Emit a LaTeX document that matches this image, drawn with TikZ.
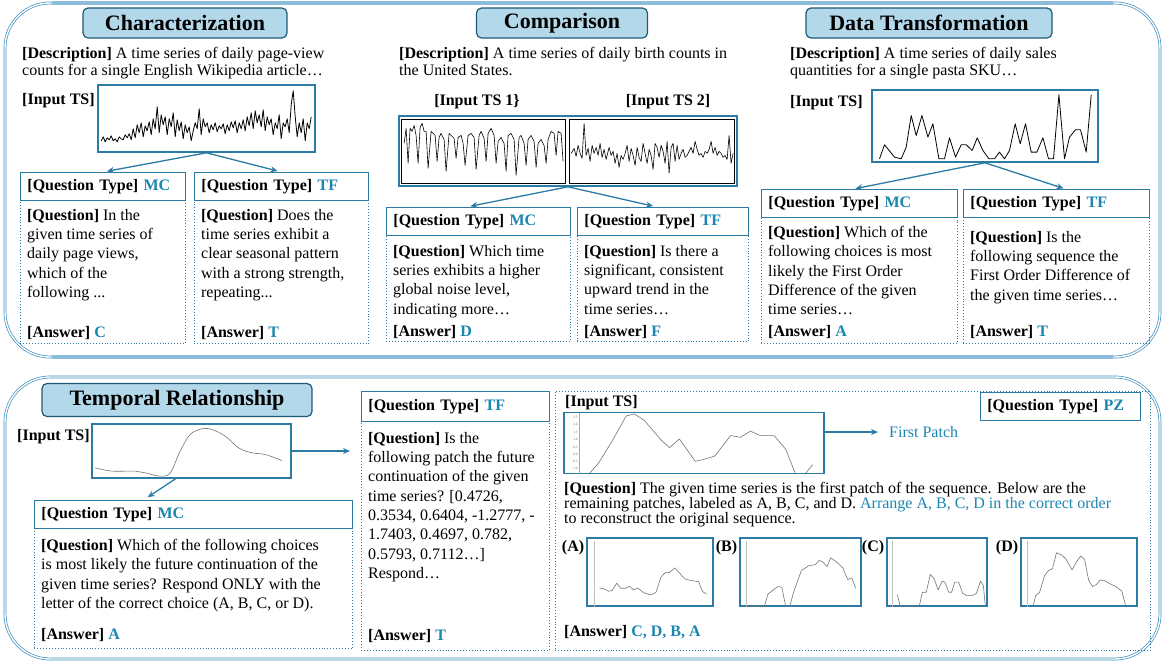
\documentclass[tikz,border=0pt]{standalone}
\usepackage{fontspec}
\setmainfont{Liberation Serif}
\usepackage{xcolor}
\usetikzlibrary{arrows.meta, positioning, calc}
\definecolor{PanelBlue}{HTML}{3D8FBF}
\definecolor{TitleFill}{HTML}{B3D8EA}
\definecolor{TitleEdge}{HTML}{1E5A78}
\definecolor{FrameBlue}{HTML}{2B7BA6}
\definecolor{AnswerBlue}{HTML}{1B86B0}

\begin{document}
\begin{tikzpicture}[
    x=1pt, y=-1pt,
    panel/.style={draw=PanelBlue, line width=0.7pt, double=white, double distance=1.4pt, rounded corners=45pt},
    edge/.style={draw=PanelBlue!60, line width=3.2pt},
    title/.style={draw=TitleEdge, fill=TitleFill, line width=1.2pt, rounded corners=5pt,
      font=\fontsize{22}{24}\selectfont\bfseries, minimum height=30pt},
    desc/.style={align=left, inner sep=0pt, font=\fontsize{16}{17.5}\selectfont},
    lbl/.style={inner sep=0pt, font=\fontsize{16}{18}\selectfont\bfseries},
    tsframe/.style={draw=FrameBlue, line width=1.6pt},
    qbox/.style={draw=FrameBlue, dotted, line width=0.9pt},
    qhead/.style={draw=FrameBlue, line width=1pt, text width=#1, align=left, inner xsep=7pt,
      minimum height=28pt, font=\fontsize{16}{18}\selectfont},
    qtext/.style={align=left, inner xsep=7pt, inner ysep=2pt, font=\fontsize{16}{19.3}\selectfont},
    link/.style={draw=FrameBlue, line width=1.3pt, -{Stealth[length=7pt,width=6pt]}},
    series/.style={line width=0.8pt, line join=round},
    soft/.style={draw=black!55, line width=0.6pt, line join=round}
  ]
  \useasboundingbox (0,0) rectangle (1164,662);

  % the two panels
  \draw[panel] (5,3) rectangle (1160,357);
  \draw[edge] (52,3) -- (1113,3);
  \draw[edge] (52,357) -- (1113,357);
  \draw[panel] (5,377) rectangle (1160,659);

  % ---------- Characterization ----------
  \node[title, minimum width=204pt] (tchar) at (185,23) {Characterization};
  \node[desc, anchor=north west] (dchar) at (22,47) {\textbf{[Description]} A time series of daily page-view\\counts for a single English Wikipedia article…};
  \node[lbl, anchor=west] (ichar) at (22,101) {[Input TS]};
  \node[tsframe, minimum width=217pt, minimum height=67pt] (tschar) at (206.5,118.5) {};
  \begin{scope}[shift={(tschar.south west)}, y=1pt]
    \draw[series] plot coordinates {(4,12)(6,16)(8,11)(10,15)(12,13)(14,17)(16,12)(18,14)(20,11)(22,16)(24,14)(26,13)(28,18)(30,15)(32,19)(34,13)(36,24)(38,15)(40,28)(42,20)(44,30)(46,16)(48,27)(50,22)(52,31)(54,18)(56,34)(58,24)(60,46)(62,20)(64,38)(66,28)(68,36)(70,18)(72,34)(74,26)(76,40)(78,16)(80,33)(82,22)(84,31)(86,14)(88,28)(90,20)(92,26)(94,12)(96,22)(98,30)(100,24)(102,44)(104,18)(106,34)(108,26)(110,30)(112,20)(114,28)(116,23)(118,30)(120,21)(122,27)(124,24)(126,29)(128,19)(130,28)(132,22)(134,31)(136,25)(138,32)(140,20)(142,30)(144,24)(146,33)(148,22)(150,36)(152,27)(154,40)(156,24)(158,42)(160,30)(162,38)(164,26)(166,43)(168,22)(170,36)(172,28)(174,34)(176,18)(178,30)(180,24)(182,38)(184,14)(186,30)(188,26)(190,34)(192,20)(194,48)(196,62)(198,36)(200,16)(202,30)(204,20)(206,34)(208,12)(210,30)(212,24)(214,36)};
  \end{scope}

  \node[qbox, minimum width=165pt, minimum height=171pt, anchor=north west] (qchar1) at (20,172) {};
  \node[qhead=151pt, anchor=north] (hchar1) at (qchar1.north) {\textbf{[Question Type] \textcolor{AnswerBlue}{MC}}};
  \node[qtext, anchor=north west] (xchar1) at ([yshift=-6pt]hchar1.south west) {\textbf{[Question]} In the\\given time series of\\daily page views,\\which of the\\following ...};
  \node[qtext, anchor=south west] (achar1) at ([yshift=2pt]qchar1.south west) {\textbf{[Answer] \textcolor{AnswerBlue}{C}}};

  \node[qbox, minimum width=174pt, minimum height=171pt, anchor=north west] (qchar2) at (194,172) {};
  \node[qhead=160pt, anchor=north] (hchar2) at (qchar2.north) {\textbf{[Question Type] \textcolor{AnswerBlue}{TF}}};
  \node[qtext, anchor=north west] (xchar2) at ([yshift=-6pt]hchar2.south west) {\textbf{[Question]} Does the\\time series exhibit a\\clear seasonal pattern\\with a strong strength,\\repeating...};
  \node[qtext, anchor=south west] (achar2) at ([yshift=2pt]qchar2.south west) {\textbf{[Answer] \textcolor{AnswerBlue}{T}}};

  \draw[link, shorten >=4pt] (tschar.south) -- (qchar1.north);
  \draw[link, shorten >=4pt] (tschar.south) -- (qchar2.north);

  % ---------- Comparison ----------
  \node[title, minimum width=171pt] (tcmp) at (562,23) {Comparison};
  \node[desc, anchor=north west] (dcmp) at (399,47) {\textbf{[Description]} A time series of daily birth counts in\\the United States.};
  \node[lbl] (icmp1) at (477,102) {[Input TS 1\}};
  \node[lbl] (icmp2) at (668,102) {[Input TS 2]};
  \node[tsframe, minimum width=338pt, minimum height=70pt] (tscmp) at (568,151) {};
  \node[draw, line width=0.8pt, minimum width=164pt, minimum height=64pt] (tscmp1) at (483.5,151) {};
  \node[draw, line width=0.8pt, minimum width=165pt, minimum height=64pt] (tscmp2) at (652,151) {};
  \begin{scope}[shift={(tscmp1.south west)}, y=1pt]
    \draw[series, line width=0.6pt] plot coordinates {(3,40)(5,55)(7,20)(9,55)(11,52)(13,58)(15,48)(17,20)(19,56)(21,60)(23,52)(25,52)(27,15)(30,52)(32,50)(34,48)(36,22)(38,46)(40,50)(43,44)(45,12)(48,50)(50,48)(53,45)(55,25)(57,46)(60,48)(62,40)(64,18)(67,48)(70,50)(73,46)(75,14)(78,48)(80,52)(83,45)(85,22)(87,50)(90,55)(93,48)(95,20)(97,42)(100,46)(103,40)(105,12)(107,48)(110,50)(113,44)(115,8)(118,46)(120,48)(123,40)(125,18)(127,44)(130,48)(133,42)(135,16)(137,40)(140,44)(143,38)(145,20)(147,44)(150,52)(153,50)(155,28)(157,52)(160,50)(162,22)};
  \end{scope}
  \begin{scope}[shift={(tscmp2.south west)}, y=1pt]
    \draw[series, line width=0.6pt] plot coordinates {(2,30)(5,35)(7,27)(9,38)(11,30)(13,25)(15,60)(17,28)(19,35)(21,22)(23,38)(25,30)(27,36)(29,28)(31,40)(33,26)(35,34)(37,24)(40,36)(42,28)(44,32)(46,20)(48,30)(50,16)(52,28)(54,24)(56,30)(58,38)(60,22)(62,35)(64,28)(66,18)(68,36)(70,26)(72,22)(74,40)(76,30)(78,20)(80,34)(82,28)(84,14)(86,40)(88,36)(90,26)(92,38)(94,32)(96,20)(98,42)(100,10)(102,36)(104,40)(106,22)(108,38)(110,24)(112,30)(114,34)(116,26)(118,28)(120,32)(122,36)(124,30)(126,42)(128,34)(130,28)(132,30)(134,26)(136,32)(138,30)(140,34)(142,42)(144,30)(146,36)(148,28)(150,32)(152,30)(154,26)(156,28)(158,24)(160,48)(162,20)(164,30)};
  \end{scope}

  \node[qbox, minimum width=184pt, minimum height=134pt, anchor=north west] (qcmp1) at (386,207) {};
  \node[qhead=170pt, anchor=north] (hcmp1) at (qcmp1.north) {\textbf{[Question Type] \textcolor{AnswerBlue}{MC}}};
  \node[qtext, anchor=north west] (xcmp1) at ([yshift=-7pt]hcmp1.south west) {\textbf{[Question]} Which time\\series exhibits a higher\\global noise level,\\indicating more…};
  \node[qtext, anchor=south west] (acmp1) at ([yshift=1pt]qcmp1.south west) {\textbf{[Answer] \textcolor{AnswerBlue}{D}}};

  \node[qbox, minimum width=171pt, minimum height=134pt, anchor=north west] (qcmp2) at (577,207) {};
  \node[qhead=157pt, anchor=north] (hcmp2) at (qcmp2.north) {\textbf{[Question Type] \textcolor{AnswerBlue}{TF}}};
  \node[qtext, anchor=north west] (xcmp2) at ([yshift=-7pt]hcmp2.south west) {\textbf{[Question]} Is there a\\significant, consistent\\upward trend in the\\time series…};
  \node[qtext, anchor=south west] (acmp2) at ([yshift=1pt]qcmp2.south west) {\textbf{[Answer] \textcolor{AnswerBlue}{F}}};

  \draw[link, shorten >=4pt] (tscmp.south) -- ([xshift=-12pt]qcmp1.north);
  \draw[link, shorten >=4pt] (tscmp.south) -- ([xshift=-6pt]qcmp2.north);

  % ---------- Data Transformation ----------
  \node[title, minimum width=246pt] (tdt) at (929,23) {Data Transformation};
  \node[desc, anchor=north west] (ddt) at (790,47) {\textbf{[Description]} A time series of daily sales\\quantities for a single pasta SKU…};
  \node[lbl, anchor=west] (idt) at (790,103) {[Input TS]};
  \node[tsframe, minimum width=226pt, minimum height=72pt] (tsdt) at (985,126) {};
  \begin{scope}[shift={(tsdt.south west)}, y=1pt]
    \draw[series] plot coordinates {(8.3,4)(13.3,18)(23.3,5.7)(30,4)(35,15.7)(40,47.3)(45,27.3)(50.7,47.3)(56.7,25.7)(61.7,39)(67.7,4)(73.3,4)(78.3,25)(84.3,5.7)(90,18)(95,18)(101,12.3)(106,25)(111.7,12.3)(117.7,4)(123.3,4)(128.3,10.7)(133.3,4)(138.3,12.3)(144,39)(149,19)(154.3,39)(160,10.7)(165.7,10.7)(171.7,25)(177.3,4)(182.3,4)(187.7,68)(193.3,4)(198.3,25.7)(204.3,33)(209.3,33)(215,10.7)(220,68)};
  \end{scope}

  \node[qbox, minimum width=196pt, minimum height=154pt, anchor=north west] (qdt1) at (761,189) {};
  \node[qhead=182pt, anchor=north] (hdt1) at (qdt1.north) {\textbf{[Question Type] \textcolor{AnswerBlue}{MC}}};
  \node[qtext, anchor=north west] (xdt1) at ([yshift=-6pt]hdt1.south west) {\textbf{[Question]} Which of the\\following choices is most\\likely the First Order\\Difference of the given\\time series…};
  \node[qtext, anchor=south west] (adt1) at ([yshift=3pt]qdt1.south west) {\textbf{[Answer] \textcolor{AnswerBlue}{A}}};

  \node[qbox, minimum width=186pt, minimum height=154pt, anchor=north west] (qdt2) at (963,189) {};
  \node[qhead=172pt, anchor=north] (hdt2) at (qdt2.north) {\textbf{[Question Type] \textcolor{AnswerBlue}{TF}}};
  \node[qtext, anchor=north west] (xdt2) at ([yshift=-11pt]hdt2.south west) {\textbf{[Question]} Is the\\following sequence the\\First Order Difference of\\the given time series…};
  \node[qtext, anchor=south west] (adt2) at ([yshift=3pt]qdt2.south west) {\textbf{[Answer] \textcolor{AnswerBlue}{T}}};

  \draw[link, shorten >=2pt] (tsdt.south) -- ([xshift=-6pt]qdt1.north);
  \draw[link, shorten >=2pt] (tsdt.south) -- ([xshift=9pt]qdt2.north);

  % ---------- Temporal Relationship ----------
  \node[title, minimum width=270pt, minimum height=33pt] (ttmp) at (177,400) {Temporal Relationship};
  \node[lbl, anchor=west] (itmp) at (17,437) {[Input TS]};
  \node[tsframe, minimum width=199pt, minimum height=54pt] (tstmp) at (191.5,451) {};
  \begin{scope}[shift={(tstmp.south west)}, y=1pt]
    \draw[soft] plot[smooth, tension=0.6] coordinates {(4,11)(20.7,7.7)(44,7.7)(54,6)(69,2.7)(79,6)(89,27.7)(99,44.3)(110.7,50)(120.7,49.3)(134,42.7)(147.3,31)(160.7,26)(174,24.3)(190.7,18.3)};
  \end{scope}

  \node[qbox, minimum width=318pt, minimum height=148pt, anchor=north west] (qtmp1) at (34,500) {};
  \node[qhead=304pt, anchor=north] (htmp1) at (qtmp1.north) {\textbf{[Question Type] \textcolor{AnswerBlue}{MC}}};
  \node[qtext, anchor=north west] (xtmp1) at ([yshift=-8pt]htmp1.south west) {\textbf{[Question]} Which of the following choices\\is most likely the future continuation of the\\given time series? Respond ONLY with the\\letter of the correct choice (A, B, C, or D).};
  \node[qtext, anchor=south west] (atmp1) at ([yshift=5pt]qtmp1.south west) {\textbf{[Answer] \textcolor{AnswerBlue}{A}}};

  \node[qbox, minimum width=188pt, minimum height=259pt, anchor=north west] (qtmp2) at (361,391) {};
  \node[qhead=174pt, minimum height=30pt, anchor=north] (htmp2) at (qtmp2.north) {\textbf{[Question Type] \textcolor{AnswerBlue}{TF}}};
  \node[qtext, anchor=north west] (xtmp2) at ([yshift=-8pt]htmp2.south west) {\textbf{[Question]} Is the\\following patch the future\\continuation of the given\\time series? [0.4726,\\0.3534, 0.6404, -1.2777, -\\1.7403, 0.4697, 0.782,\\0.5793, 0.7112…]\\Respond…};
  \node[qtext, anchor=south west] (atmp2) at ([yshift=6pt]qtmp2.south west) {\textbf{[Answer] \textcolor{AnswerBlue}{T}}};

  \draw[link, shorten >=11pt] (tstmp.east) -- (tstmp.east -| qtmp2.west);
  \draw[link, shorten >=5pt] ([xshift=-16pt]tstmp.south) -- ([xshift=-50pt]qtmp1.north);

  % ---------- Puzzle ----------
  \node[qbox, minimum width=595pt, minimum height=259pt, anchor=north west] (qpz) at (555,391) {};
  \node[qhead=146pt, anchor=north east] (hpz) at ([xshift=-10pt,yshift=-1pt]qpz.north east) {\textbf{[Question Type] \textcolor{AnswerBlue}{PZ}}};
  \node[lbl, anchor=west] (ipz) at (565,403) {[Input TS]};
  \node[tsframe, minimum width=260pt, minimum height=61pt] (tspz) at (694,443) {};
  \begin{scope}[shift={(tspz.south west)}, x=260pt, y=61pt]
    \draw[black!35, line width=0.4pt] (0.06,0) -- (0.06,1);
    \foreach \tv/\ty in {2.5/0.933,2.0/0.815,1.5/0.691,1.0/0.567,0.5/0.449,0.0/0.331,-0.5/0.213,-1.0/0.09}
      \node[anchor=east, inner sep=0.5pt, text=black!60, font=\fontsize{3.4}{3.4}\selectfont] at (0.058,\ty) {\tv};
    \draw[soft] plot coordinates {(0.098,0)(0.136,0.185)(0.189,0.551)(0.242,0.955)(0.273,0.99)(0.311,0.888)(0.379,0.551)(0.409,0.438)(0.447,0.579)(0.508,0.213)(0.538,0.242)(0.583,0.298)(0.644,0.635)(0.682,0.607)(0.72,0.708)(0.758,0.635)(0.811,0.635)(0.856,0.410)(0.894,0)};
    \draw[soft] plot coordinates {(0.929,0)(0.959,0.157)};
  \end{scope}
  \node[anchor=west, inner sep=0pt, text=AnswerBlue, font=\fontsize{16}{18}\selectfont] (fpz) at (889,432) {First Patch};
  \draw[link, shorten >=11pt] (tspz.east |- fpz.west) -- (fpz.west);

  \node[qtext, inner xsep=0pt, anchor=north west, font=\fontsize{16}{14.8}\selectfont] (xpz) at (564,480) {\textbf{[Question]} The given time series is the first patch of the sequence. Below are the\\remaining patches, labeled as A, B, C, and D. \textcolor{AnswerBlue}{Arrange A, B, C, D in the correct order}\\to reconstruct the original sequence.};

  \node[tsframe, line width=1.3pt, minimum width=126pt, minimum height=68pt] (pa) at (650,572) {};
  \node[tsframe, line width=1.3pt, minimum width=121pt, minimum height=68pt] (pb) at (800.5,572) {};
  \node[tsframe, line width=1.3pt, minimum width=100pt, minimum height=68pt] (pc) at (937,572) {};
  \node[tsframe, line width=1.3pt, minimum width=116pt, minimum height=68pt] (pd) at (1079,572) {};
  \node[lbl, anchor=north east] (la) at ([xshift=-2pt,yshift=-3pt]pa.north west) {(A)};
  \node[lbl, anchor=north east] (lb) at ([xshift=-2pt,yshift=-3pt]pb.north west) {(B)};
  \node[lbl, anchor=north east] (lc) at ([xshift=-2pt,yshift=-3pt]pc.north west) {(C)};
  \node[lbl, anchor=north east] (ld) at ([xshift=-2pt,yshift=-3pt]pd.north west) {(D)};

  \begin{scope}[shift={(pa.south west)}, x=126pt, y=68pt]
    \draw[black!25, line width=0.4pt] (0.06,0) -- (0.06,0.97);
    \draw[soft] plot coordinates {(0.103,0.276)(0.141,0.261)(0.178,0.227)(0.203,0.236)(0.241,0.345)(0.272,0.271)(0.313,0.271)(0.344,0.300)(0.375,0.246)(0.406,0.276)(0.453,0.207)(0.5,0.177)(0.531,0.187)(0.553,0.212)(0.594,0.443)(0.625,0.498)(0.656,0.498)(0.703,0.571)(0.734,0.507)(0.781,0.409)(0.828,0.384)(0.891,0.369)(0.922,0.222)(0.953,0.187)};
  \end{scope}
  \begin{scope}[shift={(pb.south west)}, x=121pt, y=68pt]
    \draw[black!25, line width=0.4pt] (0.06,0) -- (0.06,0.97);
    \draw[soft] plot coordinates {(0.058,0)(0.205,0)(0.237,0.187)(0.318,0.296)(0.351,0.286)(0.383,0)(0.416,0)(0.448,0.212)(0.513,0.532)(0.578,0.606)(0.627,0.616)(0.659,0.680)(0.692,0.655)(0.724,0.591)(0.756,0.719)(0.805,0.655)(0.854,0.571)(0.896,0.399)(0.929,0.424)(0.961,0.271)};
  \end{scope}
  \begin{scope}[shift={(pc.south west)}, x=100pt, y=68pt]
    \draw[black!25, line width=0.4pt] (0.06,0) -- (0.06,0.97);
    \draw[soft] plot coordinates {(0.111,0.177)(0.138,0)(0.328,0)(0.36,0.212)(0.399,0.212)(0.439,0.473)(0.478,0.409)(0.518,0.246)(0.557,0.374)(0.585,0.360)(0.625,0.212)(0.652,0.212)(0.684,0.360)(0.723,0.360)(0.763,0.197)(0.802,0.163)(0.862,0.163)(0.901,0.197)(0.941,0.374)(0.970,0.310)(0.99,0)};
  \end{scope}
  \begin{scope}[shift={(pd.south west)}, x=116pt, y=68pt]
    \draw[black!25, line width=0.4pt] (0.06,0) -- (0.06,0.97);
    \draw[soft] plot coordinates {(0.108,0)(0.132,0.163)(0.166,0.212)(0.209,0.458)(0.243,0.532)(0.277,0.557)(0.311,0.793)(0.351,0.764)(0.392,0.704)(0.446,0.542)(0.486,0.665)(0.520,0.744)(0.554,0.695)(0.588,0.394)(0.622,0.296)(0.655,0.325)(0.689,0.394)(0.723,0.384)(0.774,0.335)(0.824,0.296)(0.875,0.227)(0.909,0)};
  \end{scope}

  \node[qtext, inner xsep=0pt, anchor=west] (apz) at (564,632) {\textbf{[Answer] \textcolor{AnswerBlue}{C, D, B, A}}};
\end{tikzpicture}
\end{document}
